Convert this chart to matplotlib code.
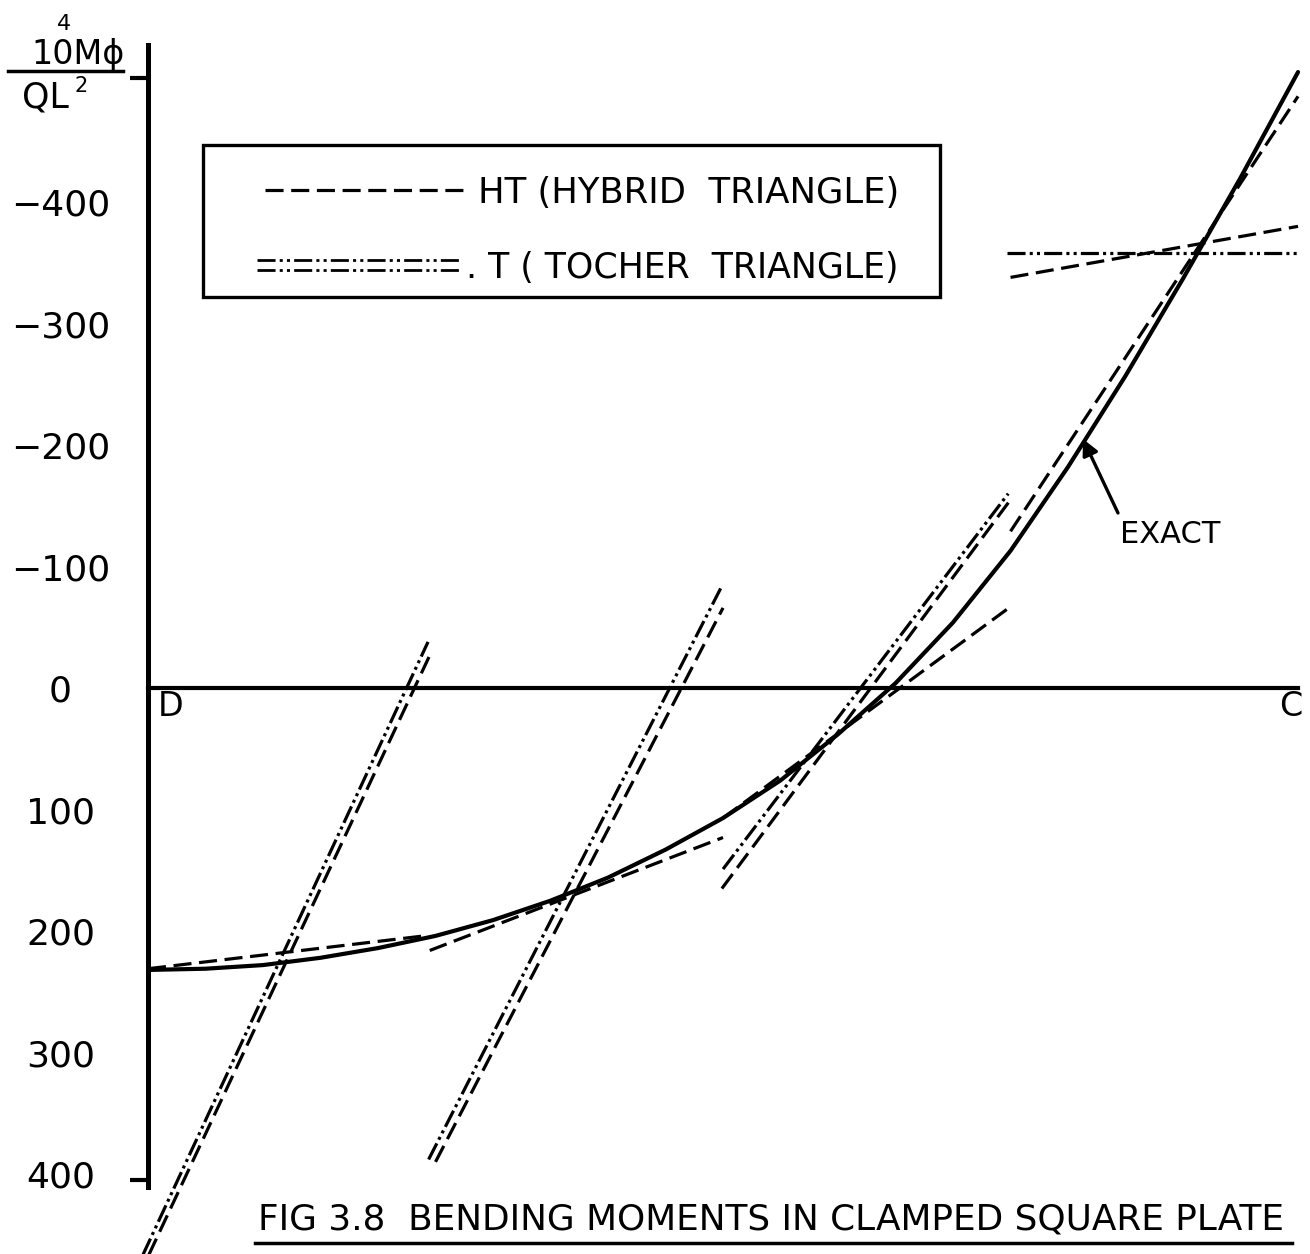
import matplotlib
matplotlib.use("Agg")
import matplotlib.pyplot as plt
from matplotlib.patches import Rectangle

plt.rcParams["font.family"] = ["DejaVu Sans"]
plt.rcParams["lines.scale_dashes"] = False

# Exact bending moment along D (centre) -> C (edge mid-point), x = distance / DC
exact_x = [0.00, 0.05, 0.10, 0.15, 0.20, 0.25, 0.30, 0.35, 0.40, 0.45, 0.50,
           0.55, 0.60, 0.65, 0.70, 0.75, 0.80, 0.85, 0.90, 0.95, 1.00]
exact_m = [232, 231, 228, 222, 214, 204, 191, 175, 156, 133, 107,
           76, 38, -4, -54, -113, -182, -257, -337, -420, -507]

# Hybrid triangle (HT) element results: linear moment over each element
ht_x0 = [-0.0035, 0.250, 0.499, 0.000, 0.245, 0.500, 0.750, 0.750]
ht_x1 = [0.247, 0.500, 0.750, 0.240, 0.500, 0.750, 1.000, 1.000]
ht_m0 = [475, 390, 165, 231, 216, 107, -129, -338]
ht_m1 = [-31, -66, -155, 204, 123, -67, -487, -380]

# Tocher triangle (T) element results
t_x0 = [-0.0086, 0.244, 0.500, 0.747]
t_x1 = [0.2435, 0.499, 0.748, 1.000]
t_m0 = [475, 388, 149, -358]
t_m1 = [-38, -84, -160, -358]

y_ticks = [-400, -300, -200, -100, 0, 100, 200, 300, 400]
y_tick_labels = ["\u2212400", "\u2212300", "\u2212200", "\u2212100", "0",
                 "100", "200", "300", "400"]

HT_DASH = (13, 5.5)
T_DASH = (13, 3, 2.2, 3, 2.2, 3)
INK = "black"

fig = plt.figure(figsize=(13.10, 12.54), dpi=100)
fig.patch.set_facecolor("white")
ax = fig.add_axes([0, 0, 1, 1])
ax.set_facecolor("none")
ax.set_xlim(-0.1287, 1.0104)
ax.set_ylim(465.8, -566.3)

# axes drawn through D: vertical moment axis and horizontal D-C line
for side in ("top", "right"):
    ax.spines[side].set_visible(False)
ax.spines["left"].set_position(("data", 0))
ax.spines["left"].set_bounds(-529, 411)
ax.spines["left"].set_linewidth(3.6)
ax.spines["bottom"].set_position(("data", 0))
ax.spines["bottom"].set_bounds(0, 1)
ax.spines["bottom"].set_linewidth(3.0)
ax.set_xticks([])
ax.set_yticks(y_ticks)
ax.set_yticklabels(y_tick_labels)
ax.set_yticks([-502, 405], minor=True)
ax.tick_params(axis="y", which="major", length=0, pad=63, labelsize=26)
ax.tick_params(axis="y", which="minor", length=13, width=3, direction="out")
for lab in ax.get_yticklabels():
    lab.set_horizontalalignment("center")

# exact curve
ax.plot(exact_x, exact_m, color=INK, lw=3.0, solid_capstyle="round",
        solid_joinstyle="round")

# element results
for xa, xb, ma, mb in zip(ht_x0, ht_x1, ht_m0, ht_m1):
    ax.plot([xa, xb], [ma, mb], color=INK, lw=2.3, dashes=HT_DASH)
for xa, xb, ma, mb in zip(t_x0, t_x1, t_m0, t_m1):
    ax.plot([xa, xb], [ma, mb], color=INK, lw=2.3, dashes=T_DASH)

# annotation layer in pixel units
ov = fig.add_axes([0, 0, 1, 1])
ov.set_xlim(0, 1310)
ov.set_ylim(1254, 0)
ov.axis("off")

# ordinate label: 10^4 M phi / Q L^2
ov.text(31, 64, "10M\u03d5", fontsize=24, ha="left", va="baseline", color=INK)
ov.text(57, 30, "4", fontsize=16, ha="left", va="baseline", color=INK)
ov.plot([8, 123], [71, 71], color=INK, lw=2.5)
ov.text(22, 108, "QL", fontsize=25, ha="left", va="baseline", color=INK)
ov.text(74, 92, "2", fontsize=15, ha="left", va="baseline", color=INK)

# legend box
ov.add_patch(Rectangle((203, 145), 737, 152, fill=False, lw=2.4, ec=INK))
ov.plot([265, 470], [190, 190], color=INK, lw=2.3, dashes=HT_DASH)
ov.text(478, 203, "HT (HYBRID  TRIANGLE)", fontsize=25.5, ha="left",
        va="baseline", color=INK)
ov.plot([257, 462], [260, 260], color=INK, lw=2.0, dashes=T_DASH)
ov.plot([257, 462], [270, 270], color=INK, lw=2.0, dashes=T_DASH)
ov.text(466, 278, ". T ( TOCHER  TRIANGLE)", fontsize=25, ha="left",
        va="baseline", color=INK)

# end labels
ov.text(158, 716, "D", fontsize=24, ha="left", va="baseline", color=INK)
ov.text(1279, 716, "C", fontsize=24, ha="left", va="baseline", color=INK)

# exact curve label with arrow
ov.text(1120, 543, "EXACT", fontsize=22, ha="left", va="baseline", color=INK)
ax.annotate("", xy=(0.813, -205), xycoords="data",
            xytext=(1118, 513), textcoords=ov.transData,
            arrowprops=dict(arrowstyle="-|>", lw=2.4, color=INK,
                            mutation_scale=24, shrinkA=0, shrinkB=0))

# caption
ov.text(258, 1229, "FIG 3.8  BENDING MOMENTS IN CLAMPED SQUARE PLATE",
        fontsize=25.8, ha="left", va="baseline", color=INK)
ov.plot([255, 1292], [1243, 1243], color=INK, lw=2.5)

fig.savefig("out.png", dpi=100, facecolor="white")
